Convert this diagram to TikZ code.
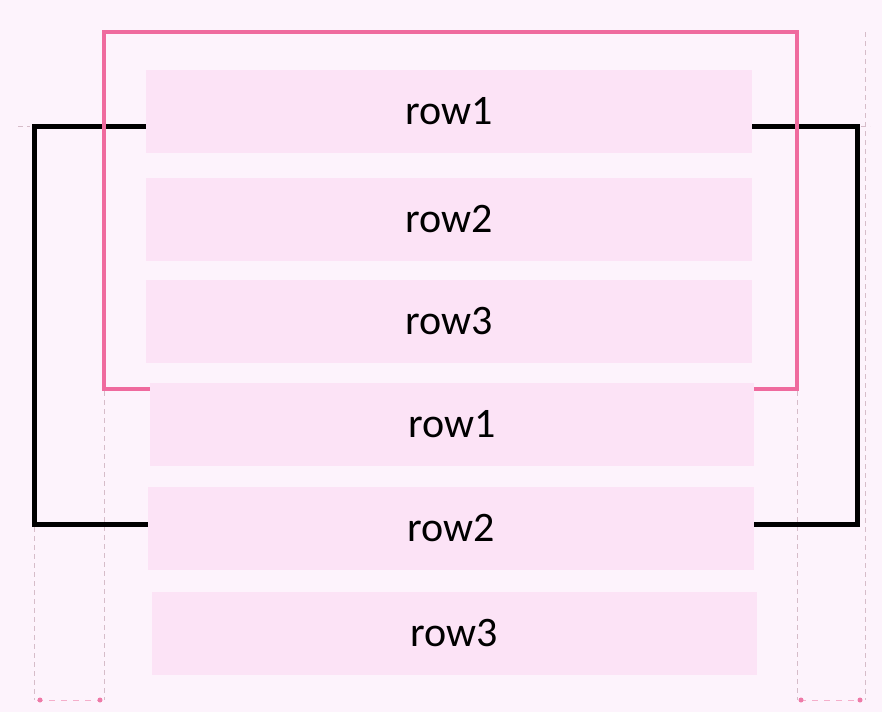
\documentclass[tikz,border=0pt]{standalone}
\usepackage{fontspec}
\setmainfont{Carlito}
\definecolor{bgc}{HTML}{FDF3FC}
\definecolor{rowc}{HTML}{FCE3F6}
\definecolor{pinkl}{HTML}{EF6A9E}
\definecolor{dashc}{HTML}{D6BCC9}
\definecolor{dotc}{HTML}{EE7AA8}
\begin{document}
\begin{tikzpicture}[x=1pt,y=-1pt,
  rowbox/.style={fill=rowc,draw=none,minimum height=83pt,inner sep=0pt,font=\fontsize{42}{48}\selectfont,text=black},
  blackline/.style={draw=black,line width=5pt,line join=miter},
  pinkline/.style={draw=pinkl,line width=4pt,line join=miter},
  guide/.style={draw=dashc,line width=0.9pt,dash pattern=on 5pt off 4pt}]
\fill[bgc] (0,0) rectangle (882,712);
\useasboundingbox (0,0) rectangle (882,712);
% rows
\node[rowbox,minimum width=606pt] (r1) at (449,111.5) {row1};
\node[rowbox,minimum width=606pt] (r2) at (449,219) {row2};
\node[rowbox,minimum width=606pt] (r3) at (449,321.5) {row3};
\node[rowbox,minimum width=604pt] (r4) at (452,424.5) {row1};
\node[rowbox,minimum width=606pt] (r5) at (451,528.5) {row2};
\node[rowbox,minimum width=605pt] (r6) at (454.5,633) {row3};
% coordinates
\coordinate (pl) at (104,389);
\coordinate (pr) at (797,389);
\coordinate (tl) at (34,126);
\coordinate (tr) at (857,126);
\coordinate (bl) at (34,524);
\coordinate (br) at (857,524);
% guides
\draw[guide] (34,527) -- (34,700);
\draw[guide] (104,391) -- (104,700);
\draw[guide] (797,391) -- (797,700);
\draw[guide] (865,32) -- (865,700);
\draw[guide] (18,126) -- (30,126);
\draw[guide] (861,126) -- (870,126);
\draw[draw=dotc!60,line width=1pt,dash pattern=on 6pt off 6pt] (37,700) -- (102,700);
\draw[draw=dotc!60,line width=1pt,dash pattern=on 6pt off 6pt] (800,700) -- (862,700);
\fill[dotc] (40,700) circle (2.5pt) (100,700) circle (2.5pt) (801,700) circle (2.5pt) (860,700) circle (2.5pt);
% black brackets
\draw[blackline] (r1.west |- tl) -- (tl) -- (bl) -- (r5.west |- bl);
\draw[blackline] (r1.east |- tr) -- (tr) -- (br) -- (r5.east |- br);
% pink bracket
\draw[pinkline] (r4.west |- pl) -- (pl) -- (104,32) -- (797,32) -- (pr) -- (r4.east |- pr);
\end{tikzpicture}
\end{document}
